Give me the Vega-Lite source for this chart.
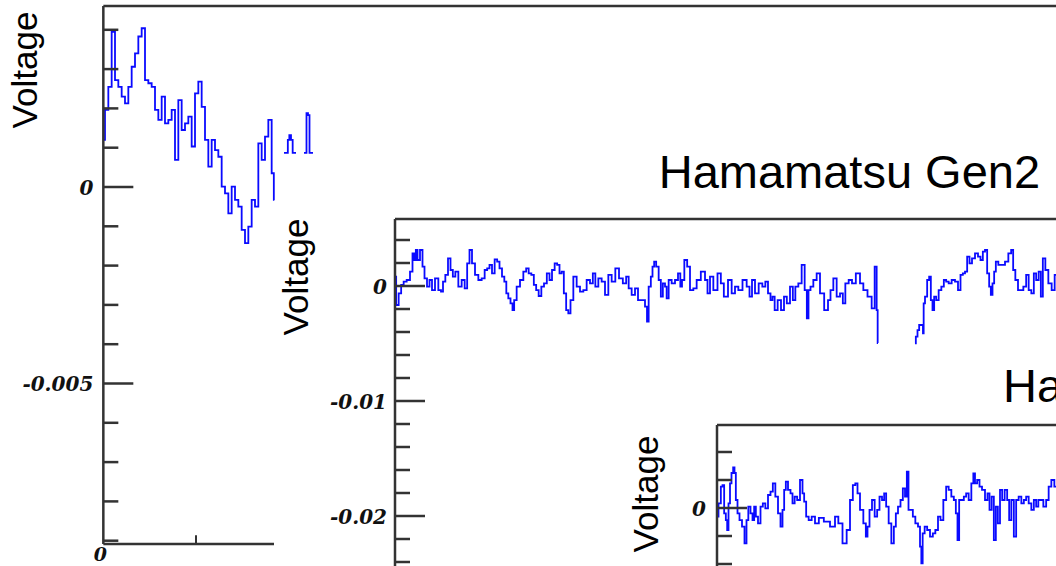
{
  "$schema": "https://vega.github.io/schema/vega-lite/v6.json",
  "width": 1056,
  "height": 566,
  "padding": 0,
  "autosize": {"type": "none"},
  "background": "white",
  "config": {"view": {"stroke": null}},
  "datasets": {
    "p1trace": [
      {"seg": "main", "t": 0, "v": 0.0012}, {"seg": "main", "t": 0.5, "v": 0.00196}, {"seg": "main", "t": 1.0, "v": 0.00255},
      {"seg": "main", "t": 1.5, "v": 0.00395}, {"seg": "main", "t": 2.0, "v": 0.00272}, {"seg": "main", "t": 2.5, "v": 0.00255},
      {"seg": "main", "t": 3.0, "v": 0.0023}, {"seg": "main", "t": 3.5, "v": 0.00213}, {"seg": "main", "t": 4.0, "v": 0.00255},
      {"seg": "main", "t": 4.5, "v": 0.00306}, {"seg": "main", "t": 5.0, "v": 0.0034}, {"seg": "main", "t": 5.5, "v": 0.00383},
      {"seg": "main", "t": 6.0, "v": 0.00404}, {"seg": "main", "t": 6.5, "v": 0.00272}, {"seg": "main", "t": 7.0, "v": 0.00264},
      {"seg": "main", "t": 7.5, "v": 0.00255}, {"seg": "main", "t": 8.0, "v": 0.00196}, {"seg": "main", "t": 8.5, "v": 0.00171},
      {"seg": "main", "t": 9.0, "v": 0.0023}, {"seg": "main", "t": 9.5, "v": 0.00162}, {"seg": "main", "t": 10.0, "v": 0.00171},
      {"seg": "main", "t": 10.5, "v": 0.00196}, {"seg": "main", "t": 11.0, "v": 0.00069}, {"seg": "main", "t": 11.5, "v": 0.00221},
      {"seg": "main", "t": 12.0, "v": 0.00145}, {"seg": "main", "t": 12.5, "v": 0.00162}, {"seg": "main", "t": 13.0, "v": 0.00179},
      {"seg": "main", "t": 13.5, "v": 0.00103}, {"seg": "main", "t": 14.0, "v": 0.00238}, {"seg": "main", "t": 14.5, "v": 0.00268},
      {"seg": "main", "t": 15.0, "v": 0.00204}, {"seg": "main", "t": 15.5, "v": 0.0012}, {"seg": "main", "t": 16.0, "v": 0.00052},
      {"seg": "main", "t": 16.5, "v": 0.0012}, {"seg": "main", "t": 17.0, "v": 0.00094}, {"seg": "main", "t": 17.5, "v": 0.00077},
      {"seg": "main", "t": 18.0, "v": 0.00001}, {"seg": "main", "t": 18.5, "v": -0.00016}, {"seg": "main", "t": 19.0, "v": -0.00067},
      {"seg": "main", "t": 19.5, "v": 0.00001}, {"seg": "main", "t": 20.0, "v": -0.00033}, {"seg": "main", "t": 20.5, "v": -0.0005},
      {"seg": "main", "t": 21.0, "v": -0.00109}, {"seg": "main", "t": 21.5, "v": -0.00143}, {"seg": "main", "t": 22.0, "v": -0.00101},
      {"seg": "main", "t": 22.5, "v": -0.00033}, {"seg": "main", "t": 23.0, "v": -0.0005}, {"seg": "main", "t": 23.5, "v": 0.00111},
      {"seg": "main", "t": 24.0, "v": 0.00069}, {"seg": "main", "t": 24.5, "v": 0.00128}, {"seg": "main", "t": 25.0, "v": 0.00171},
      {"seg": "main", "t": 25.5, "v": 0.00035}, {"seg": "main", "t": 25.65, "v": -0.00033},
      {"seg": "f1", "t": 27.1, "v": 0.00087}, {"seg": "f1", "t": 27.55, "v": 0.00087}, {"seg": "f1", "t": 27.8, "v": 0.0012},
      {"seg": "f1", "t": 28.0, "v": 0.00132}, {"seg": "f1", "t": 28.3, "v": 0.0012}, {"seg": "f1", "t": 28.5, "v": 0.00087},
      {"seg": "f1", "t": 28.9, "v": 0.00087},
      {"seg": "f2", "t": 30.1, "v": 0.00087}, {"seg": "f2", "t": 30.4, "v": 0.00087}, {"seg": "f2", "t": 30.55, "v": 0.00188},
      {"seg": "f2", "t": 30.85, "v": 0.00183}, {"seg": "f2", "t": 31.0, "v": 0.00087}, {"seg": "f2", "t": 31.45, "v": 0.00087}
    ],
    "p1ticks": [
      {"v": 0.004, "kind": "minor"}, {"v": 0.003, "kind": "minor"}, {"v": 0.002, "kind": "minor"}, {"v": 0.001, "kind": "minor"},
      {"v": 0, "kind": "major"}, {"v": -0.001, "kind": "minor"}, {"v": -0.002, "kind": "minor"}, {"v": -0.003, "kind": "minor"},
      {"v": -0.004, "kind": "minor"}, {"v": -0.005, "kind": "major"}, {"v": -0.006, "kind": "minor"}, {"v": -0.007, "kind": "minor"},
      {"v": -0.008, "kind": "minor"}, {"v": -0.009, "kind": "minor"}
    ],
    "p1labels": [{"v": 0, "label": "0"}, {"v": -0.005, "label": "-0.005"}],
    "p2trace": [
      {"seg": "a", "t": 0.0, "v": 0.00081}, {"seg": "a", "t": 0.58, "v": -0.00165}, {"seg": "a", "t": 1.25, "v": -0.00064},
      {"seg": "a", "t": 1.83, "v": 0.00009}, {"seg": "a", "t": 2.5, "v": 0.00038}, {"seg": "a", "t": 3.33, "v": 0.00052},
      {"seg": "a", "t": 4.17, "v": 0.00125}, {"seg": "a", "t": 4.58, "v": 0.00284}, {"seg": "a", "t": 5.0, "v": 0.00226},
      {"seg": "a", "t": 5.42, "v": 0.00313}, {"seg": "a", "t": 5.83, "v": 0.00226}, {"seg": "a", "t": 6.67, "v": 0.00313},
      {"seg": "a", "t": 7.08, "v": 0.00168}, {"seg": "a", "t": 7.67, "v": 0.00067}, {"seg": "a", "t": 8.33, "v": -0.00006},
      {"seg": "a", "t": 8.92, "v": 0.00052}, {"seg": "a", "t": 9.58, "v": -0.00035}, {"seg": "a", "t": 10.42, "v": 0.00067},
      {"seg": "a", "t": 11.25, "v": -0.00035}, {"seg": "a", "t": 11.75, "v": -0.00049}, {"seg": "a", "t": 12.25, "v": 0.00038},
      {"seg": "a", "t": 12.92, "v": 0.00096}, {"seg": "a", "t": 13.58, "v": 0.00241}, {"seg": "a", "t": 14.17, "v": 0.00139},
      {"seg": "a", "t": 14.75, "v": 0.00081}, {"seg": "a", "t": 15.42, "v": 0.00125}, {"seg": "a", "t": 16.25, "v": -0.00006},
      {"seg": "a", "t": 17.08, "v": 0.00052}, {"seg": "a", "t": 17.75, "v": -0.0002}, {"seg": "a", "t": 18.33, "v": 0.00197},
      {"seg": "a", "t": 18.92, "v": 0.00313}, {"seg": "a", "t": 19.58, "v": 0.00197}, {"seg": "a", "t": 20.42, "v": 0.00096},
      {"seg": "a", "t": 21.25, "v": 0.00052}, {"seg": "a", "t": 22.08, "v": 0.00067}, {"seg": "a", "t": 22.75, "v": 0.00139},
      {"seg": "a", "t": 23.33, "v": 0.00154}, {"seg": "a", "t": 23.92, "v": 0.00183}, {"seg": "a", "t": 24.58, "v": 0.0011},
      {"seg": "a", "t": 25.25, "v": 0.00232}, {"seg": "a", "t": 25.83, "v": 0.00212}, {"seg": "a", "t": 26.42, "v": 0.00154},
      {"seg": "a", "t": 27.08, "v": 0.00081}, {"seg": "a", "t": 27.58, "v": 0.00038}, {"seg": "a", "t": 28.08, "v": -0.00064},
      {"seg": "a", "t": 28.58, "v": -0.00107}, {"seg": "a", "t": 29.17, "v": -0.00151}, {"seg": "a", "t": 29.58, "v": -0.00209},
      {"seg": "a", "t": 30.0, "v": -0.00122}, {"seg": "a", "t": 30.83, "v": -0.00006}, {"seg": "a", "t": 31.67, "v": 0.00052},
      {"seg": "a", "t": 32.5, "v": 0.00125}, {"seg": "a", "t": 33.08, "v": 0.00154}, {"seg": "a", "t": 33.75, "v": 0.0011},
      {"seg": "a", "t": 34.42, "v": 0.00096}, {"seg": "a", "t": 35.0, "v": 0.00009}, {"seg": "a", "t": 35.58, "v": -0.00035},
      {"seg": "a", "t": 36.25, "v": -0.00087}, {"seg": "a", "t": 36.92, "v": -0.00006}, {"seg": "a", "t": 37.58, "v": 0.00023},
      {"seg": "a", "t": 38.33, "v": 0.0011}, {"seg": "a", "t": 38.92, "v": 0.00052}, {"seg": "a", "t": 39.58, "v": 0.00139},
      {"seg": "a", "t": 40.25, "v": 0.00197}, {"seg": "a", "t": 40.83, "v": 0.00183}, {"seg": "a", "t": 41.42, "v": 0.0011},
      {"seg": "a", "t": 41.92, "v": 0.00125}, {"seg": "a", "t": 42.5, "v": -0.00064}, {"seg": "a", "t": 43.08, "v": -0.00209},
      {"seg": "a", "t": 43.58, "v": -0.00238}, {"seg": "a", "t": 44.17, "v": -0.00122}, {"seg": "a", "t": 45.0, "v": 0.00081},
      {"seg": "a", "t": 45.83, "v": -0.00006}, {"seg": "a", "t": 46.67, "v": -0.00049}, {"seg": "a", "t": 47.5, "v": -0.00035},
      {"seg": "a", "t": 48.33, "v": 0.00052}, {"seg": "a", "t": 49.17, "v": 0.00023}, {"seg": "a", "t": 49.75, "v": 0.0011},
      {"seg": "a", "t": 50.42, "v": -0.00006}, {"seg": "a", "t": 51.25, "v": 0.00067}, {"seg": "a", "t": 52.08, "v": 0.00038},
      {"seg": "a", "t": 52.92, "v": -0.00078}, {"seg": "a", "t": 53.75, "v": 0.00096}, {"seg": "a", "t": 54.58, "v": 0.00038},
      {"seg": "a", "t": 55.58, "v": 0.00154}, {"seg": "a", "t": 56.42, "v": 0.00067}, {"seg": "a", "t": 57.5, "v": 0.00023},
      {"seg": "a", "t": 58.08, "v": 0.00081}, {"seg": "a", "t": 58.75, "v": -0.0002}, {"seg": "a", "t": 59.58, "v": -0.00078},
      {"seg": "a", "t": 60.42, "v": -0.0002}, {"seg": "a", "t": 61.08, "v": -0.00122}, {"seg": "a", "t": 62.08, "v": -0.00122},
      {"seg": "a", "t": 62.92, "v": -0.0018}, {"seg": "a", "t": 63.08, "v": -0.0031}, {"seg": "a", "t": 63.75, "v": -0.00006},
      {"seg": "a", "t": 64.17, "v": 0.00081}, {"seg": "a", "t": 64.58, "v": 0.00168}, {"seg": "a", "t": 65.0, "v": 0.00212},
      {"seg": "a", "t": 65.58, "v": 0.00168}, {"seg": "a", "t": 66.25, "v": 0.00052}, {"seg": "a", "t": 66.67, "v": -0.00093},
      {"seg": "a", "t": 67.25, "v": 0.00023}, {"seg": "a", "t": 67.75, "v": -0.00006}, {"seg": "a", "t": 68.08, "v": -0.00107},
      {"seg": "a", "t": 68.75, "v": 0.00052}, {"seg": "a", "t": 69.58, "v": 0.00023}, {"seg": "a", "t": 70.42, "v": 0.00052},
      {"seg": "a", "t": 71.08, "v": 0.0011}, {"seg": "a", "t": 71.58, "v": -0.00006}, {"seg": "a", "t": 71.92, "v": 0.00052},
      {"seg": "a", "t": 72.75, "v": 0.00226}, {"seg": "a", "t": 73.33, "v": 0.00168}, {"seg": "a", "t": 74.17, "v": -0.00035},
      {"seg": "a", "t": 75.0, "v": -0.0002}, {"seg": "a", "t": 75.83, "v": 0.00052}, {"seg": "a", "t": 77.08, "v": 0.00125},
      {"seg": "a", "t": 77.92, "v": 0.00052}, {"seg": "a", "t": 78.33, "v": -0.00064}, {"seg": "a", "t": 79.17, "v": 0.00081},
      {"seg": "a", "t": 80.0, "v": -0.00035}, {"seg": "a", "t": 81.25, "v": 0.0011}, {"seg": "a", "t": 81.67, "v": 0.00023},
      {"seg": "a", "t": 82.75, "v": -0.00093}, {"seg": "a", "t": 83.75, "v": 0.00052}, {"seg": "a", "t": 84.58, "v": -0.00064},
      {"seg": "a", "t": 85.42, "v": -0.00006}, {"seg": "a", "t": 86.25, "v": -0.00035}, {"seg": "a", "t": 87.5, "v": 0.00052},
      {"seg": "a", "t": 88.33, "v": -0.00006}, {"seg": "a", "t": 88.92, "v": -0.00093}, {"seg": "a", "t": 89.58, "v": 0.00052},
      {"seg": "a", "t": 90.42, "v": -0.00064}, {"seg": "a", "t": 91.42, "v": 0.00023}, {"seg": "a", "t": 92.25, "v": -0.00006},
      {"seg": "a", "t": 92.92, "v": 0.00038}, {"seg": "a", "t": 93.58, "v": -0.00064}, {"seg": "a", "t": 94.17, "v": -0.00122},
      {"seg": "a", "t": 94.58, "v": -0.00093}, {"seg": "a", "t": 95.25, "v": -0.00209}, {"seg": "a", "t": 96.08, "v": -0.00122},
      {"seg": "a", "t": 96.92, "v": -0.00209}, {"seg": "a", "t": 97.58, "v": -0.00093}, {"seg": "a", "t": 98.33, "v": -0.00151},
      {"seg": "a", "t": 99.17, "v": -0.00006}, {"seg": "a", "t": 99.75, "v": -0.00122}, {"seg": "a", "t": 100.42, "v": -0.00006},
      {"seg": "a", "t": 101.25, "v": 0.00023}, {"seg": "a", "t": 102.08, "v": 0.00183}, {"seg": "a", "t": 102.75, "v": -0.00035},
      {"seg": "a", "t": 103.17, "v": -0.00281}, {"seg": "a", "t": 103.58, "v": -0.00035}, {"seg": "a", "t": 104.17, "v": -0.00006},
      {"seg": "a", "t": 105.0, "v": 0.00052}, {"seg": "a", "t": 105.83, "v": 0.0011}, {"seg": "a", "t": 106.67, "v": -0.00064},
      {"seg": "a", "t": 107.92, "v": -0.00209}, {"seg": "a", "t": 108.58, "v": -0.00122}, {"seg": "a", "t": 109.17, "v": -0.00035},
      {"seg": "a", "t": 110.0, "v": 0.00067}, {"seg": "a", "t": 110.83, "v": -0.00093}, {"seg": "a", "t": 111.67, "v": -0.00064},
      {"seg": "a", "t": 112.25, "v": -0.00151}, {"seg": "a", "t": 112.92, "v": 0.00023}, {"seg": "a", "t": 113.92, "v": 0.00052},
      {"seg": "a", "t": 114.58, "v": 0.00023}, {"seg": "a", "t": 115.83, "v": 0.0011}, {"seg": "a", "t": 116.67, "v": 0.00023},
      {"seg": "a", "t": 117.5, "v": -0.00035}, {"seg": "a", "t": 118.75, "v": -0.00093}, {"seg": "a", "t": 119.58, "v": -0.00194},
      {"seg": "a", "t": 120.25, "v": 0.00168}, {"seg": "a", "t": 120.58, "v": -0.00209}, {"seg": "a", "t": 120.75, "v": -0.00496},
      {"seg": "b", "t": 130.0, "v": -0.00499}, {"seg": "b", "t": 130.42, "v": -0.00441}, {"seg": "b", "t": 130.83, "v": -0.00383},
      {"seg": "b", "t": 131.25, "v": -0.00339}, {"seg": "b", "t": 131.9, "v": -0.00339}, {"seg": "b", "t": 132.08, "v": -0.00412},
      {"seg": "b", "t": 132.25, "v": -0.00151}, {"seg": "b", "t": 132.75, "v": -0.00093}, {"seg": "b", "t": 133.33, "v": 0.00052},
      {"seg": "b", "t": 133.75, "v": 0.00081}, {"seg": "b", "t": 134.17, "v": -0.00122}, {"seg": "b", "t": 134.58, "v": -0.00209},
      {"seg": "b", "t": 135.0, "v": -0.00093}, {"seg": "b", "t": 135.58, "v": -0.00122}, {"seg": "b", "t": 136.25, "v": -0.00035},
      {"seg": "b", "t": 136.92, "v": -0.00006}, {"seg": "b", "t": 137.5, "v": 0.00052}, {"seg": "b", "t": 138.08, "v": 0.00038},
      {"seg": "b", "t": 138.75, "v": 0.00023}, {"seg": "b", "t": 139.58, "v": 0.00052}, {"seg": "b", "t": 140.42, "v": 0.00038},
      {"seg": "b", "t": 141.08, "v": -0.00035}, {"seg": "b", "t": 141.67, "v": 0.00096}, {"seg": "b", "t": 142.25, "v": 0.0011},
      {"seg": "b", "t": 142.75, "v": 0.00125}, {"seg": "b", "t": 143.33, "v": 0.00255}, {"seg": "b", "t": 143.92, "v": 0.00197},
      {"seg": "b", "t": 144.58, "v": 0.00241}, {"seg": "b", "t": 145.42, "v": 0.00284}, {"seg": "b", "t": 146.08, "v": 0.00255},
      {"seg": "b", "t": 146.67, "v": 0.00226}, {"seg": "b", "t": 147.25, "v": 0.00299}, {"seg": "b", "t": 147.75, "v": 0.00313},
      {"seg": "b", "t": 148.33, "v": 0.0011}, {"seg": "b", "t": 148.75, "v": -0.00006}, {"seg": "b", "t": 149.17, "v": -0.00078},
      {"seg": "b", "t": 149.58, "v": 0.00023}, {"seg": "b", "t": 150.0, "v": 0.00125}, {"seg": "b", "t": 150.42, "v": 0.00212},
      {"seg": "b", "t": 151.25, "v": 0.00183}, {"seg": "b", "t": 152.08, "v": 0.00183}, {"seg": "b", "t": 152.92, "v": 0.00212},
      {"seg": "b", "t": 153.75, "v": 0.00284}, {"seg": "b", "t": 154.33, "v": 0.00313}, {"seg": "b", "t": 154.75, "v": 0.00139},
      {"seg": "b", "t": 155.42, "v": 0.00052}, {"seg": "b", "t": 156.08, "v": -0.00035}, {"seg": "b", "t": 156.67, "v": -0.00035},
      {"seg": "b", "t": 157.5, "v": -0.00006}, {"seg": "b", "t": 158.08, "v": 0.00096}, {"seg": "b", "t": 158.75, "v": -0.00035},
      {"seg": "b", "t": 159.42, "v": -0.00064}, {"seg": "b", "t": 160.0, "v": 0.0011}, {"seg": "b", "t": 160.58, "v": 0.00052},
      {"seg": "b", "t": 161.25, "v": 0.00125}, {"seg": "b", "t": 161.67, "v": -0.00093}, {"seg": "b", "t": 162.25, "v": 0.00241},
      {"seg": "b", "t": 162.92, "v": 0.00139}, {"seg": "b", "t": 163.75, "v": 0.00023}, {"seg": "b", "t": 164.58, "v": -0.00035},
      {"seg": "b", "t": 165.25, "v": 0.00096}
    ],
    "p2ticks": [
      {"v": 0.004, "kind": "minor"}, {"v": 0.002, "kind": "minor"}, {"v": 0, "kind": "major"}, {"v": -0.002, "kind": "minor"},
      {"v": -0.004, "kind": "minor"}, {"v": -0.006, "kind": "minor"}, {"v": -0.008, "kind": "minor"}, {"v": -0.01, "kind": "major"},
      {"v": -0.012, "kind": "minor"}, {"v": -0.014, "kind": "minor"}, {"v": -0.016, "kind": "minor"}, {"v": -0.018, "kind": "minor"},
      {"v": -0.02, "kind": "major"}, {"v": -0.022, "kind": "minor"}, {"v": -0.024, "kind": "minor"}
    ],
    "p2labels": [{"v": 0, "label": "0"}, {"v": -0.01, "label": "-0.01"}, {"v": -0.02, "label": "-0.02"}],
    "p3trace": [
      {"t": 0.0, "v": -0.00062}, {"t": 0.75, "v": 0.00033}, {"t": 1.17, "v": 0.00152}, {"t": 1.58, "v": 0.00164},
      {"t": 2.0, "v": -0.00038}, {"t": 2.42, "v": -0.00086}, {"t": 2.67, "v": -0.00157}, {"t": 3.08, "v": 0.00033},
      {"t": 3.42, "v": 0.00176}, {"t": 3.83, "v": 0.0025}, {"t": 4.25, "v": 0.0029}, {"t": 4.5, "v": 0.0025},
      {"t": 4.92, "v": 0.00057}, {"t": 5.33, "v": -0.00038}, {"t": 5.92, "v": -0.00086}, {"t": 6.58, "v": -0.00133},
      {"t": 7.17, "v": -0.00252}, {"t": 7.58, "v": -0.00086}, {"t": 8.08, "v": 0.0001}, {"t": 8.67, "v": -0.00038},
      {"t": 9.08, "v": -0.00086}, {"t": 9.5, "v": 0.0001}, {"t": 9.92, "v": -0.00062}, {"t": 10.58, "v": -0.0011},
      {"t": 11.17, "v": 0.0001}, {"t": 11.75, "v": 0.00033}, {"t": 12.42, "v": -0.00002}, {"t": 13.08, "v": 0.00093},
      {"t": 13.67, "v": 0.00117}, {"t": 14.25, "v": 0.00176}, {"t": 14.92, "v": 0.00081}, {"t": 15.58, "v": -0.00038},
      {"t": 16.17, "v": -0.00133}, {"t": 16.58, "v": -0.00014}, {"t": 17.0, "v": 0.00129}, {"t": 17.42, "v": 0.00188},
      {"t": 18.08, "v": 0.00129}, {"t": 18.67, "v": 0.00105}, {"t": 19.08, "v": 0.00033}, {"t": 19.75, "v": 0.00081},
      {"t": 20.33, "v": 0.00057}, {"t": 21.17, "v": 0.002}, {"t": 21.58, "v": 0.00105}, {"t": 22.0, "v": 0.00045},
      {"t": 22.58, "v": -0.00062}, {"t": 23.25, "v": -0.00086}, {"t": 24.08, "v": -0.00062}, {"t": 24.92, "v": -0.0011},
      {"t": 26.0, "v": -0.0007}, {"t": 27.42, "v": -0.00098}, {"t": 29.08, "v": -0.00133}, {"t": 29.92, "v": -0.00062},
      {"t": 30.75, "v": -0.0011}, {"t": 32.0, "v": -0.00252}, {"t": 32.83, "v": -0.00157}, {"t": 33.67, "v": 0.00057},
      {"t": 34.25, "v": 0.00164}, {"t": 34.92, "v": 0.00176}, {"t": 35.33, "v": 0.00105}, {"t": 36.17, "v": -0.00014},
      {"t": 37.0, "v": -0.0011}, {"t": 37.42, "v": -0.00205}, {"t": 37.83, "v": -0.00133}, {"t": 38.42, "v": -0.00014},
      {"t": 39.08, "v": 0.00057}, {"t": 39.75, "v": -0.00062}, {"t": 40.33, "v": -0.00014}, {"t": 40.92, "v": 0.00081},
      {"t": 41.58, "v": 0.00057}, {"t": 42.0, "v": 0.00105}, {"t": 42.58, "v": 0.0001}, {"t": 43.25, "v": -0.0011},
      {"t": 43.92, "v": -0.00252}, {"t": 44.5, "v": -0.00133}, {"t": 44.92, "v": -0.00038}, {"t": 45.58, "v": 0.0001},
      {"t": 46.17, "v": 0.00057}, {"t": 46.75, "v": 0.0014}, {"t": 47.25, "v": 0.00081}, {"t": 47.67, "v": 0.0026},
      {"t": 48.08, "v": -0.00014}, {"t": 48.67, "v": -0.00014}, {"t": 49.25, "v": -0.00062}, {"t": 49.92, "v": -0.0011},
      {"t": 50.58, "v": -0.00133}, {"t": 50.92, "v": -0.00276}, {"t": 51.25, "v": -0.00395}, {"t": 51.58, "v": -0.00181},
      {"t": 52.25, "v": -0.00133}, {"t": 52.83, "v": -0.00157}, {"t": 53.67, "v": -0.00205}, {"t": 54.25, "v": -0.00181},
      {"t": 54.92, "v": -0.00157}, {"t": 55.58, "v": -0.00062}, {"t": 56.17, "v": -0.00086}, {"t": 57.0, "v": 0.00057},
      {"t": 57.58, "v": 0.00152}, {"t": 58.25, "v": 0.00129}, {"t": 58.92, "v": 0.00081}, {"t": 59.5, "v": 0.00057},
      {"t": 59.92, "v": -0.00038}, {"t": 60.33, "v": -0.00229}, {"t": 60.75, "v": 0.00057}, {"t": 61.42, "v": 0.00057},
      {"t": 62.0, "v": 0.00081}, {"t": 62.58, "v": 0.00105}, {"t": 63.25, "v": 0.00057}, {"t": 63.92, "v": 0.00176},
      {"t": 64.25, "v": 0.00248}, {"t": 64.75, "v": 0.00176}, {"t": 65.33, "v": 0.002}, {"t": 65.92, "v": 0.00152},
      {"t": 66.58, "v": 0.00129}, {"t": 67.42, "v": 0.00057}, {"t": 67.83, "v": 0.00105}, {"t": 68.42, "v": -0.00014},
      {"t": 68.92, "v": 0.00081}, {"t": 69.5, "v": -0.00229}, {"t": 69.92, "v": 0.0001}, {"t": 70.5, "v": -0.0011},
      {"t": 71.0, "v": 0.00129}, {"t": 71.58, "v": 0.00057}, {"t": 72.25, "v": 0.00129}, {"t": 72.83, "v": 0.00057},
      {"t": 73.25, "v": -0.00086}, {"t": 73.92, "v": 0.00057}, {"t": 74.5, "v": -0.00205}, {"t": 75.08, "v": 0.00057},
      {"t": 75.75, "v": 0.00081}, {"t": 76.42, "v": 0.00033}, {"t": 77.0, "v": 0.00057}, {"t": 77.58, "v": 0.00081},
      {"t": 78.25, "v": 0.00033}, {"t": 78.92, "v": -0.00014}, {"t": 79.5, "v": 0.00057}, {"t": 80.08, "v": 0.0001},
      {"t": 80.58, "v": 0.00057}, {"t": 81.17, "v": 0.00057}, {"t": 82.0, "v": 0.0001}, {"t": 82.58, "v": 0.00057},
      {"t": 83.25, "v": 0.00152}, {"t": 83.92, "v": 0.002}, {"t": 84.75, "v": 0.00152}
    ],
    "p3ticks": [
      {"v": 0.004, "kind": "minor"}, {"v": 0.002, "kind": "minor"}, {"v": 0, "kind": "major"},
      {"v": -0.002, "kind": "minor"}, {"v": -0.004, "kind": "minor"}
    ],
    "p3labels": [{"v": 0, "label": "0"}]
  },
  "layer": [
    {
      "layer": [
        {
          "data": {"name": "p1trace"},
          "mark": {"type": "line", "interpolate": "step", "color": "#0a0aff", "strokeWidth": 1.8, "clip": true},
          "encoding": {
            "x": {"field": "t", "type": "quantitative", "scale": {"domain": [-15.5, 142.9], "nice": false, "zero": false}, "axis": null},
            "y": {"field": "v", "type": "quantitative", "scale": {"domain": [-0.0096438, 0.0047583], "nice": false, "zero": false}, "axis": null},
            "detail": {"field": "seg"}
          }
        },
        {
          "data": {"values": [{}]},
          "mark": {"type": "rule", "color": "#333333", "strokeWidth": 2.5, "clip": true},
          "encoding": {
            "x": {"datum": 0, "type": "quantitative", "scale": {"domain": [-15.5, 142.9], "nice": false, "zero": false}, "axis": null},
            "x2": {"datum": 200},
            "y": {"datum": 0.0046056, "type": "quantitative", "scale": {"domain": [-0.0096438, 0.0047583], "nice": false, "zero": false}, "axis": null}
          }
        },
        {
          "data": {"values": [{}]},
          "mark": {"type": "rule", "color": "#333333", "strokeWidth": 2.5},
          "encoding": {
            "x": {"datum": 0, "type": "quantitative", "scale": {"domain": [-15.5, 142.9], "nice": false, "zero": false}, "axis": null},
            "y": {"datum": -0.009084, "type": "quantitative", "scale": {"domain": [-0.0096438, 0.0047583], "nice": false, "zero": false}, "axis": null},
            "y2": {"datum": 0.0046056}
          }
        },
        {
          "data": {"values": [{}]},
          "mark": {"type": "rule", "color": "#333333", "strokeWidth": 2.5},
          "encoding": {
            "x": {"datum": 0, "type": "quantitative", "scale": {"domain": [-15.5, 142.9], "nice": false, "zero": false}, "axis": null},
            "x2": {"datum": 25.6},
            "y": {"datum": -0.009084, "type": "quantitative", "scale": {"domain": [-0.0096438, 0.0047583], "nice": false, "zero": false}, "axis": null}
          }
        },
        {
          "data": {"values": [{}]},
          "mark": {"type": "rule", "color": "#333333", "strokeWidth": 2},
          "encoding": {
            "x": {"datum": 13.9, "type": "quantitative", "scale": {"domain": [-15.5, 142.9], "nice": false, "zero": false}, "axis": null},
            "y": {"datum": -0.009084, "type": "quantitative", "scale": {"domain": [-0.0096438, 0.0047583], "nice": false, "zero": false}, "axis": null},
            "y2": {"datum": -0.00886}
          }
        },
        {
          "data": {"name": "p1ticks"},
          "transform": [{"filter": "datum.kind === 'minor'"}],
          "mark": {"type": "rule", "color": "#333333", "strokeWidth": 2.5},
          "encoding": {
            "x": {"datum": 0, "type": "quantitative", "scale": {"domain": [-15.5, 142.9], "nice": false, "zero": false}, "axis": null},
            "x2": {"datum": 2.25},
            "y": {"field": "v", "type": "quantitative", "scale": {"domain": [-0.0096438, 0.0047583], "nice": false, "zero": false}, "axis": null}
          }
        },
        {
          "data": {"name": "p1ticks"},
          "transform": [{"filter": "datum.kind === 'major'"}],
          "mark": {"type": "rule", "color": "#333333", "strokeWidth": 2.5},
          "encoding": {
            "x": {"datum": 0, "type": "quantitative", "scale": {"domain": [-15.5, 142.9], "nice": false, "zero": false}, "axis": null},
            "x2": {"datum": 4.5},
            "y": {"field": "v", "type": "quantitative", "scale": {"domain": [-0.0096438, 0.0047583], "nice": false, "zero": false}, "axis": null}
          }
        },
        {
          "data": {"name": "p1labels"},
          "mark": {"type": "text", "align": "right", "baseline": "middle", "dx": -10, "dy": 2, "font": "DejaVu Serif", "fontStyle": "italic", "fontWeight": "bold", "fontSize": 20, "color": "#111111"},
          "encoding": {
            "x": {"datum": 0, "type": "quantitative", "scale": {"domain": [-15.5, 142.9], "nice": false, "zero": false}, "axis": null},
            "y": {"field": "v", "type": "quantitative", "scale": {"domain": [-0.0096438, 0.0047583], "nice": false, "zero": false}, "axis": null},
            "text": {"field": "label"}
          }
        },
        {
          "data": {"values": [{}]},
          "mark": {"type": "text", "align": "center", "baseline": "middle", "dx": -3, "dy": 11, "text": "0", "font": "DejaVu Serif", "fontStyle": "italic", "fontWeight": "bold", "fontSize": 19, "color": "#111111"},
          "encoding": {
            "x": {"datum": 0, "type": "quantitative", "scale": {"domain": [-15.5, 142.9], "nice": false, "zero": false}, "axis": null},
            "y": {"datum": -0.009084, "type": "quantitative", "scale": {"domain": [-0.0096438, 0.0047583], "nice": false, "zero": false}, "axis": null}
          }
        },
        {
          "data": {"values": [{}]},
          "mark": {"type": "text", "align": "center", "baseline": "alphabetic", "angle": 270, "text": "Voltage", "font": "Liberation Sans", "fontSize": 35, "color": "#000000"},
          "encoding": {
            "x": {"datum": -9.95, "type": "quantitative", "scale": {"domain": [-15.5, 142.9], "nice": false, "zero": false}, "axis": null},
            "y": {"datum": 0.002977, "type": "quantitative", "scale": {"domain": [-0.0096438, 0.0047583], "nice": false, "zero": false}, "axis": null}
          }
        }
      ]
    },
    {
      "layer": [
        {
          "data": {"name": "p2trace"},
          "mark": {"type": "line", "interpolate": "step", "color": "#0a0aff", "strokeWidth": 1.8, "clip": true},
          "encoding": {
            "x": {"field": "t", "type": "quantitative", "scale": {"domain": [-98.75, 165.25], "nice": false, "zero": false}, "axis": null},
            "y": {"field": "v", "type": "quantitative", "scale": {"domain": [-0.0243478, 0.0248696], "nice": false, "zero": false}, "axis": null},
            "detail": {"field": "seg"}
          }
        },
        {
          "data": {"values": [{}]},
          "mark": {"type": "rule", "color": "#333333", "strokeWidth": 2.5, "clip": true},
          "encoding": {
            "x": {"datum": 0, "type": "quantitative", "scale": {"domain": [-98.75, 165.25], "nice": false, "zero": false}, "axis": null},
            "x2": {"datum": 200},
            "y": {"datum": 0.0058261, "type": "quantitative", "scale": {"domain": [-0.0243478, 0.0248696], "nice": false, "zero": false}, "axis": null}
          }
        },
        {
          "data": {"values": [{}]},
          "mark": {"type": "rule", "color": "#333333", "strokeWidth": 2.5, "clip": true},
          "encoding": {
            "x": {"datum": 0, "type": "quantitative", "scale": {"domain": [-98.75, 165.25], "nice": false, "zero": false}, "axis": null},
            "y": {"datum": -0.026, "type": "quantitative", "scale": {"domain": [-0.0243478, 0.0248696], "nice": false, "zero": false}, "axis": null},
            "y2": {"datum": 0.0058261}
          }
        },
        {
          "data": {"name": "p2ticks"},
          "transform": [{"filter": "datum.kind === 'minor'"}],
          "mark": {"type": "rule", "color": "#333333", "strokeWidth": 2.5},
          "encoding": {
            "x": {"datum": 0, "type": "quantitative", "scale": {"domain": [-98.75, 165.25], "nice": false, "zero": false}, "axis": null},
            "x2": {"datum": 3.75},
            "y": {"field": "v", "type": "quantitative", "scale": {"domain": [-0.0243478, 0.0248696], "nice": false, "zero": false}, "axis": null}
          }
        },
        {
          "data": {"name": "p2ticks"},
          "transform": [{"filter": "datum.kind === 'major'"}],
          "mark": {"type": "rule", "color": "#333333", "strokeWidth": 2.5},
          "encoding": {
            "x": {"datum": 0, "type": "quantitative", "scale": {"domain": [-98.75, 165.25], "nice": false, "zero": false}, "axis": null},
            "x2": {"datum": 7.5},
            "y": {"field": "v", "type": "quantitative", "scale": {"domain": [-0.0243478, 0.0248696], "nice": false, "zero": false}, "axis": null}
          }
        },
        {
          "data": {"name": "p2labels"},
          "mark": {"type": "text", "align": "right", "baseline": "middle", "dx": -8, "dy": 2, "font": "DejaVu Serif", "fontStyle": "italic", "fontWeight": "bold", "fontSize": 20, "color": "#111111"},
          "encoding": {
            "x": {"datum": 0, "type": "quantitative", "scale": {"domain": [-98.75, 165.25], "nice": false, "zero": false}, "axis": null},
            "y": {"field": "v", "type": "quantitative", "scale": {"domain": [-0.0243478, 0.0248696], "nice": false, "zero": false}, "axis": null},
            "text": {"field": "label"}
          }
        },
        {
          "data": {"values": [{}]},
          "mark": {"type": "text", "align": "center", "baseline": "alphabetic", "angle": 270, "text": "Voltage", "font": "Liberation Sans", "fontSize": 35, "color": "#000000"},
          "encoding": {
            "x": {"datum": -21.75, "type": "quantitative", "scale": {"domain": [-98.75, 165.25], "nice": false, "zero": false}, "axis": null},
            "y": {"datum": 0.00078, "type": "quantitative", "scale": {"domain": [-0.0243478, 0.0248696], "nice": false, "zero": false}, "axis": null}
          }
        },
        {
          "data": {"values": [{}]},
          "mark": {"type": "text", "align": "center", "baseline": "alphabetic", "text": "Hamamatsu Gen2", "font": "Liberation Sans", "fontSize": 47, "color": "#000000"},
          "encoding": {
            "x": {"datum": 113.6, "type": "quantitative", "scale": {"domain": [-98.75, 165.25], "nice": false, "zero": false}, "axis": null},
            "y": {"datum": 0.008522, "type": "quantitative", "scale": {"domain": [-0.0243478, 0.0248696], "nice": false, "zero": false}, "axis": null}
          }
        }
      ]
    },
    {
      "layer": [
        {
          "data": {"name": "p3trace"},
          "mark": {"type": "line", "interpolate": "step", "color": "#0a0aff", "strokeWidth": 1.8, "clip": true},
          "encoding": {
            "x": {"field": "t", "type": "quantitative", "scale": {"domain": [-179.25, 84.75], "nice": false, "zero": false}, "axis": null},
            "y": {"field": "v", "type": "quantitative", "scale": {"domain": [-0.0041429, 0.0362857], "nice": false, "zero": false}, "axis": null}
          }
        },
        {
          "data": {"values": [{}]},
          "mark": {"type": "rule", "color": "#333333", "strokeWidth": 2.5, "clip": true},
          "encoding": {
            "x": {"datum": 0, "type": "quantitative", "scale": {"domain": [-179.25, 84.75], "nice": false, "zero": false}, "axis": null},
            "x2": {"datum": 120},
            "y": {"datum": 0.0059286, "type": "quantitative", "scale": {"domain": [-0.0041429, 0.0362857], "nice": false, "zero": false}, "axis": null}
          }
        },
        {
          "data": {"values": [{}]},
          "mark": {"type": "rule", "color": "#333333", "strokeWidth": 2.5, "clip": true},
          "encoding": {
            "x": {"datum": 0, "type": "quantitative", "scale": {"domain": [-179.25, 84.75], "nice": false, "zero": false}, "axis": null},
            "y": {"datum": -0.005, "type": "quantitative", "scale": {"domain": [-0.0041429, 0.0362857], "nice": false, "zero": false}, "axis": null},
            "y2": {"datum": 0.0059286}
          }
        },
        {
          "data": {"name": "p3ticks"},
          "transform": [{"filter": "datum.kind === 'minor'"}],
          "mark": {"type": "rule", "color": "#333333", "strokeWidth": 2.5},
          "encoding": {
            "x": {"datum": 0, "type": "quantitative", "scale": {"domain": [-179.25, 84.75], "nice": false, "zero": false}, "axis": null},
            "x2": {"datum": 3.75},
            "y": {"field": "v", "type": "quantitative", "scale": {"domain": [-0.0041429, 0.0362857], "nice": false, "zero": false}, "axis": null}
          }
        },
        {
          "data": {"name": "p3ticks"},
          "transform": [{"filter": "datum.kind === 'major'"}],
          "mark": {"type": "rule", "color": "#333333", "strokeWidth": 2.5},
          "encoding": {
            "x": {"datum": 0, "type": "quantitative", "scale": {"domain": [-179.25, 84.75], "nice": false, "zero": false}, "axis": null},
            "x2": {"datum": 7.5},
            "y": {"field": "v", "type": "quantitative", "scale": {"domain": [-0.0041429, 0.0362857], "nice": false, "zero": false}, "axis": null}
          }
        },
        {
          "data": {"name": "p3labels"},
          "mark": {"type": "text", "align": "right", "baseline": "middle", "dx": -11, "dy": 2, "font": "DejaVu Serif", "fontStyle": "italic", "fontWeight": "bold", "fontSize": 20, "color": "#111111"},
          "encoding": {
            "x": {"datum": 0, "type": "quantitative", "scale": {"domain": [-179.25, 84.75], "nice": false, "zero": false}, "axis": null},
            "y": {"field": "v", "type": "quantitative", "scale": {"domain": [-0.0041429, 0.0362857], "nice": false, "zero": false}, "axis": null},
            "text": {"field": "label"}
          }
        },
        {
          "data": {"values": [{}]},
          "mark": {"type": "text", "align": "center", "baseline": "alphabetic", "angle": 270, "text": "Voltage", "font": "Liberation Sans", "fontSize": 35, "color": "#000000"},
          "encoding": {
            "x": {"datum": -14.75, "type": "quantitative", "scale": {"domain": [-179.25, 84.75], "nice": false, "zero": false}, "axis": null},
            "y": {"datum": 0.001, "type": "quantitative", "scale": {"domain": [-0.0041429, 0.0362857], "nice": false, "zero": false}, "axis": null}
          }
        },
        {
          "data": {"values": [{}]},
          "mark": {"type": "text", "align": "left", "baseline": "alphabetic", "text": "Hamamatsu", "font": "Liberation Sans", "fontSize": 47, "color": "#000000", "clip": true},
          "encoding": {
            "x": {"datum": 71.5, "type": "quantitative", "scale": {"domain": [-179.25, 84.75], "nice": false, "zero": false}, "axis": null},
            "y": {"datum": 0.0075714, "type": "quantitative", "scale": {"domain": [-0.0041429, 0.0362857], "nice": false, "zero": false}, "axis": null}
          }
        }
      ]
    }
  ],
  "resolve": {"scale": {"x": "independent", "y": "independent"}}
}
